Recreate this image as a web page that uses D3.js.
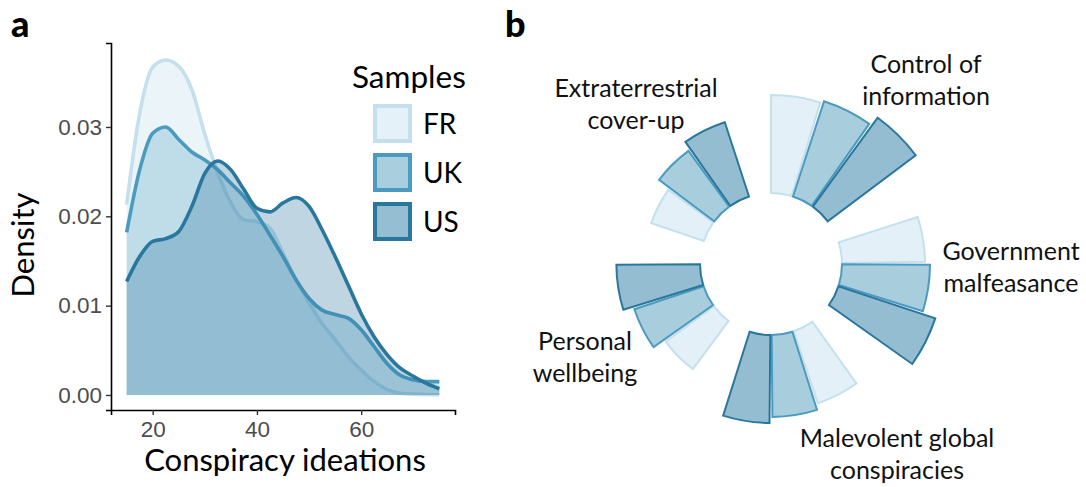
<!DOCTYPE html>
<html>
<head>
<meta charset="utf-8">
<script src="https://cdn.jsdelivr.net/npm/d3@7/dist/d3.min.js"></script>
<style>
  body { margin: 0; background: #fff; }
  svg { display: block; }
</style>
</head>
<body>
<svg width="1086" height="487"></svg>
<script>
// ---- data: panel a (density of conspiracy ideation scores) ----
var samples = ["FR", "UK", "US"];
var scoreGrid = [15, 17.5, 20, 22.5, 25, 27.5, 30, 32.5, 35, 37.5, 40, 42.5, 45,
  47.5, 50, 52.5, 55, 57.5, 60, 62.5, 65, 67.5, 70, 72.5, 75];
var densFR = [0.0213, 0.0315, 0.0367, 0.0375, 0.0368, 0.0342, 0.0292, 0.0248, 0.0215, 0.0196,
  0.0194, 0.0187, 0.0159, 0.0129, 0.0103, 0.0080, 0.0062, 0.0043, 0.0028, 0.0015,
  0.0006, 0.0002, 0.0001, 0.00005, 0.00002];
var densUK = [0.0182, 0.0252, 0.0293, 0.0300, 0.0286, 0.0272, 0.0263, 0.0252, 0.0237, 0.0222,
  0.0202, 0.0179, 0.0155, 0.0129, 0.0108, 0.0095, 0.0090, 0.0086, 0.0073, 0.0054,
  0.0035, 0.0022, 0.0017, 0.0015, 0.0015];
var densUS = [0.0127, 0.0155, 0.0172, 0.0175, 0.0183, 0.0211, 0.0248, 0.0262, 0.0252, 0.0230,
  0.0209, 0.0205, 0.0215, 0.0221, 0.0211, 0.0185, 0.0155, 0.0123, 0.0091, 0.0065,
  0.0045, 0.0030, 0.0021, 0.0013, 0.0007];
var yTicks = [0, 0.01, 0.02, 0.03];
var xTicks = [20, 40, 60];

// ---- data: panel b (mean score by theme and sample) ----
var themes = ["Control of information", "Government malfeasance",
  "Malevolent global conspiracies", "Personal wellbeing", "Extraterrestrial cover-up"];
var themeLines = [["Control of", "information"], ["Government", "malfeasance"],
  ["Malevolent global", "conspiracies"], ["Personal", "wellbeing"], ["Extraterrestrial", "cover-up"]];
var meanFR = [3.56, 3.02, 2.76, 2.18, 2.02];
var meanUK = [3.64, 3.20, 2.98, 2.65, 2.51];
var meanUS = [4.00, 3.71, 3.20, 3.04, 2.84];

var lineCol = { FR: "#c4e0ee", UK: "#4b9bc0", US: "#2a779d" };
var areaCol = { FR: "#c6e2ef", UK: "#5aa3c3", US: "#2b789e" };
var barFill = { FR: "#e3f0f7", UK: "#a8cddd", US: "#94bdd1" };
var keyFill = { FR: "#e4f1f8", UK: "#a9cfdf", US: "#95bed3" };

var titleFont = "Lato, 'Open Sans', sans-serif";
var tickFont = "'Liberation Sans', Arial, sans-serif";

var svg = d3.select("svg");

// panel letters
svg.append("text").attr("x", 11).attr("y", 37).text("a")
  .style("font-family", titleFont).style("font-weight", "900").style("font-size", "36px");
svg.append("text").attr("x", 505).attr("y", 37).text("b")
  .style("font-family", titleFont).style("font-weight", "900").style("font-size", "36px");

// ---------------- panel a ----------------
var x = d3.scaleLinear().domain([12, 78]).range([111, 455]);
var y = d3.scaleLinear().domain([-0.00168, 0.0394]).range([410, 43]);

var dens = { FR: densFR, UK: densUK, US: densUS };

var area = d3.area()
  .x(function (d) { return x(d[0]); })
  .y0(y(0))
  .y1(function (d) { return y(d[1]); })
  .curve(d3.curveMonotoneX);
var line = d3.line()
  .x(function (d) { return x(d[0]); })
  .y(function (d) { return y(d[1]); })
  .curve(d3.curveMonotoneX);

var gA = svg.append("g");
samples.forEach(function (s) {
  var pts = scoreGrid.map(function (g, i) { return [g, dens[s][i]]; });
  gA.append("path").datum(pts).attr("d", area)
    .attr("fill", areaCol[s]).attr("fill-opacity", s === "FR" ? 0.35 : 0.3);
  gA.append("path").datum(pts).attr("d", line)
    .attr("fill", "none").attr("stroke", lineCol[s]).attr("stroke-width", 3.6)
    .attr("stroke-linejoin", "round");
});

var xAxis = gA.append("g").attr("transform", "translate(0,410)")
  .call(d3.axisBottom(x).tickValues(xTicks).tickSize(5).tickPadding(6));
var yAxis = gA.append("g").attr("transform", "translate(111,0)")
  .call(d3.axisLeft(y).tickValues(yTicks).tickSize(5).tickPadding(4).tickFormat(d3.format(".2f")));
[xAxis, yAxis].forEach(function (ax) {
  ax.select(".domain").attr("stroke", "#000").attr("stroke-width", 1.6);
  ax.selectAll(".tick line").attr("stroke", "#333").attr("stroke-width", 1.4);
  ax.selectAll(".tick text").attr("fill", "#4d4d4d")
    .style("font-family", tickFont).style("font-size", "22.5px");
});

gA.append("text").attr("x", 285).attr("y", 471).attr("text-anchor", "middle")
  .text("Conspiracy ideations")
  .style("font-family", titleFont).style("font-size", "31px");
gA.append("text").attr("transform", "translate(34,245) rotate(-90)").attr("text-anchor", "middle")
  .text("Density")
  .style("font-family", titleFont).style("font-size", "31px");

// legend
var leg = gA.append("g");
leg.append("text").attr("x", 352).attr("y", 88).text("Samples")
  .style("font-family", titleFont).style("font-size", "31.5px");
samples.forEach(function (s, i) {
  var ky = 106 + i * 49;
  leg.append("rect").attr("x", 375).attr("y", ky).attr("width", 35).attr("height", 35)
    .attr("fill", keyFill[s]).attr("stroke", lineCol[s]).attr("stroke-width", 4);
  leg.append("text").attr("x", 423).attr("y", ky + 28).text(s)
    .style("font-family", titleFont).style("font-size", "28px");
});

// ---------------- panel b ----------------
var cx = 771, cy = 264;
var slots = [];
themes.forEach(function (t, g) {
  samples.forEach(function (s) { slots.push(t + "|" + s); });
  slots.push(t + "|gap");
});
var angle = d3.scaleBand().domain(slots).range([0, 2 * Math.PI]).paddingInner(0.06);
var radius = d3.scaleLinear().domain([0, 4]).range([71, 181]);
var means = { FR: meanFR, UK: meanUK, US: meanUS };

var bars = [];
themes.forEach(function (t, g) {
  samples.forEach(function (s) { bars.push({ theme: t, sample: s, value: means[s][g] }); });
});

var arc = d3.arc()
  .innerRadius(radius(0))
  .outerRadius(function (d) { return radius(d.value); })
  .startAngle(function (d) { return angle(d.theme + "|" + d.sample); })
  .endAngle(function (d) { return angle(d.theme + "|" + d.sample) + angle.bandwidth(); });

var gB = svg.append("g").attr("transform", "translate(" + cx + "," + cy + ")");
gB.selectAll("path").data(bars).enter().append("path")
  .attr("d", arc)
  .attr("fill", function (d) { return barFill[d.sample]; })
  .attr("stroke", function (d) { return lineCol[d.sample]; })
  .attr("stroke-width", 2)
  .attr("stroke-linejoin", "miter");

// theme labels, placed relative to the centre
var labelPos = [[155, -191], [240, -4], [126, 183], [-186, 86], [-135, -167]];
themeLines.forEach(function (ls, g) {
  var t = gB.append("text").attr("text-anchor", "middle")
    .style("font-family", titleFont).style("font-size", "25px").attr("fill", "#111");
  ls.forEach(function (l, k) {
    t.append("tspan").attr("x", labelPos[g][0]).attr("y", labelPos[g][1] + k * 32).text(l);
  });
});
</script>
</body>
</html>
